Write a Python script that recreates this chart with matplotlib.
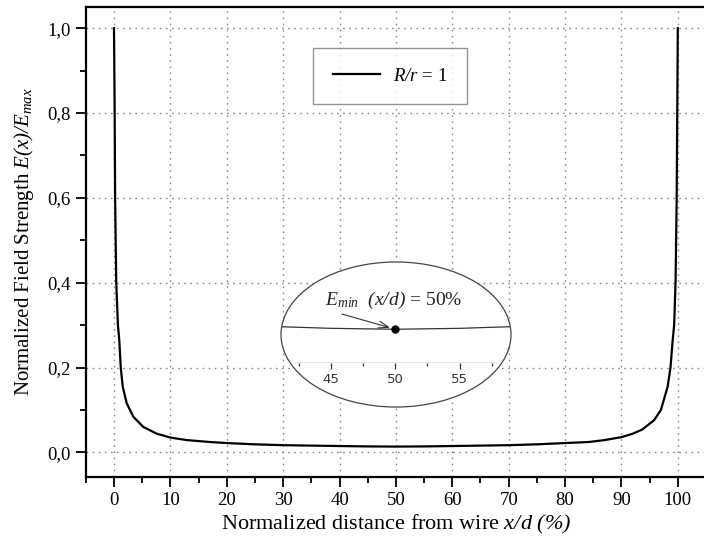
import numpy as np
import matplotlib
matplotlib.use("Agg")
import matplotlib.pyplot as plt
from matplotlib.patches import Ellipse
from matplotlib.ticker import MultipleLocator, FuncFormatter

plt.rcParams['font.family'] = ['Liberation Serif', 'DejaVu Serif']
# math parts are the italic symbols, brackets included
plt.rcParams['mathtext.fontset'] = 'custom'
plt.rcParams['mathtext.rm'] = 'Liberation Serif:italic'
plt.rcParams['mathtext.it'] = 'Liberation Serif:italic'

# field strength between the wires, normalised to the wire surface value
x_pct = [0, 0.12, 0.2, 0.4, 0.7, 0.93, 1.2, 1.55, 2.25, 3.43,
         5.2, 7.6, 10, 12.9, 17, 20, 25, 30, 40, 45,
         50, 55, 60, 70, 75, 80, 84.2, 87, 90, 92,
         93.7, 95.8, 97, 98.2, 98.7, 99.1, 99.35, 99.6, 99.8, 99.9,
         100]
e_norm = [1.0, 0.8, 0.6, 0.4, 0.3, 0.266, 0.2, 0.155, 0.116, 0.084,
          0.060, 0.044, 0.035, 0.029, 0.0245, 0.022, 0.019, 0.017, 0.0150, 0.0141,
          0.0137, 0.0141, 0.0150, 0.017, 0.019, 0.022, 0.0245, 0.029, 0.036, 0.044,
          0.054, 0.076, 0.1, 0.155, 0.2, 0.266, 0.3, 0.4, 0.6, 0.8,
          1.0]
legend_label = r'$R/r$ = 1'
x_min_pct = 50
inset_ticks = [45, 50, 55]

fig = plt.figure(figsize=(7.04, 5.37), dpi=100)
ax = fig.add_axes([85.8 / 704, 60 / 537, 620.2 / 704, 470 / 537])

ax.plot(x_pct, e_norm, color='black', lw=1.6, label=legend_label, zorder=3)

ax.set_xlim(-5, 105)
ax.set_ylim(-0.058, 1.05)
ax.xaxis.set_major_locator(MultipleLocator(10))
ax.xaxis.set_minor_locator(MultipleLocator(5))
ax.yaxis.set_major_locator(MultipleLocator(0.2))
ax.yaxis.set_minor_locator(MultipleLocator(0.1))
ax.yaxis.set_major_formatter(FuncFormatter(lambda v, p: f'{v:.1f}'.replace('.', ',')))
ax.set_xticks([t for t in ax.get_xticks() if 0 <= t <= 100])

ax.tick_params(which='major', direction='out', length=7, width=1.3, labelsize=13.5, pad=4)
ax.tick_params(which='minor', direction='out', length=4, width=1.3)
ax.tick_params(top=False, right=False)
for side in ['left', 'bottom', 'top', 'right']:
    ax.spines[side].set_linewidth(1.6)

ax.grid(True, which='major', color='#8a8a8a', linestyle=(0, (1.2, 3.2)), lw=1.0)

ax.set_xlabel(r'Normalized distance from wire $x/d$ $(\%)$', fontsize=16)
ax.set_ylabel(r'Normalized Field Strength $E(x)/E_{max}$', fontsize=15)
ax.xaxis.set_label_coords(0.5, -0.077)
ax.yaxis.set_label_coords(-0.081, 0.5)

leg = ax.legend(loc='center', bbox_to_anchor=((390 - 85.8) / 620.2, (537 - 76 - 60) / 470),
                fontsize=13.5, frameon=True, fancybox=False, borderpad=1.05,
                handlelength=2.5, handletextpad=0.7)
leg.get_frame().set_edgecolor('#7a7a7a')
leg.get_frame().set_linewidth(1.0)

# zoomed view around the minimum, drawn in an elliptical window
axin = fig.add_axes([281 / 704, (537 - 363) / 537, 230 / 704, 101 / 537])
axin.patch.set_visible(False)
ell = Ellipse((0.5, 0.282), 1.0, 1.436, transform=axin.transAxes,
              facecolor='white', edgecolor='#444444', lw=0.9, clip_on=False, zorder=0)
axin.add_patch(ell)
axin.set_xlim(41.1, 59.0)
axin.set_ylim(-0.001, 0.043)
line, = axin.plot(x_pct, e_norm, color='#333333', lw=0.9, zorder=2)
line.set_clip_path(ell)
axin.plot([x_min_pct], [e_norm[x_pct.index(x_min_pct)]], 'o', color='black', ms=5, zorder=3)
for side in ['left', 'top', 'right']:
    axin.spines[side].set_visible(False)
axin.spines['bottom'].set_color('#333333')
axin.spines['bottom'].set_linewidth(0.9)
axin.spines['bottom'].set_clip_path(ell)
axin.set_xticks(inset_ticks)
axin.xaxis.set_minor_locator(MultipleLocator(2.5))
axin.set_yticks([])
axin.tick_params(which='major', direction='out', length=4.5, width=0.9, color='#333333',
                 labelsize=9.5, labelcolor='#333333', pad=2.5)
axin.tick_params(which='minor', direction='out', length=2.5, width=0.9, color='#333333')
for lab in axin.get_xticklabels():
    lab.set_family('DejaVu Sans')

axin.annotate('', xy=(x_min_pct, e_norm[x_pct.index(x_min_pct)]), xytext=(0.265, 0.485),
              textcoords='axes fraction',
              arrowprops=dict(arrowstyle='->,head_length=0.7,head_width=0.25',
                              color='#333333', lw=0.8, shrinkA=0, shrinkB=4))
axin.text(0.19, 0.62, r'$E_{min}$  $(x/d)$ = 50%', transform=axin.transAxes,
          fontsize=14, ha='left', va='center', color='#222222')

fig.savefig('out.png', dpi=100)
